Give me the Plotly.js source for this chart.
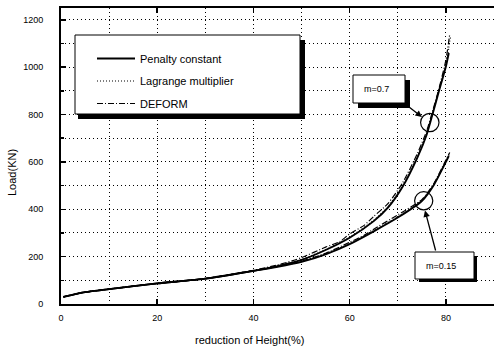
<!DOCTYPE html>
<html><head><meta charset="utf-8">
<script src="https://cdn.plot.ly/plotly-3.0.1.min.js"></script>
<style>html,body{margin:0;padding:0;background:#fff;}#chart{width:494px;height:350px;}</style>
</head><body><div id="chart"></div>
<script>
// reduction of Height (%) and Load (KN), m = 0.7
const penaltyX07 = [0.5, 5, 10, 20, 30, 40, 45, 50, 55, 60, 65, 68, 71, 74, 76, 77, 78.5, 80, 80.6];
const penaltyY07 = [30, 50, 63, 87, 107, 140, 160, 186, 228, 280, 350, 408, 495, 615, 715, 785, 895, 1003, 1060];
const lagrangeX07 = [0.5, 5, 10, 20, 30, 40, 45, 50, 55, 60, 65, 68, 71, 74, 76, 77, 78.5, 80, 80.6, 81];
const lagrangeY07 = [30, 50, 63, 87, 107, 141, 161, 188, 230, 283, 354, 412, 500, 620, 720, 790, 900, 1010, 1080, 1135];
const deformX07 = [0.5, 5, 10, 20, 30, 40, 45, 48, 50, 55, 58, 60, 63, 65, 68, 71, 74, 76, 77, 78.5, 80, 80.8];
const deformY07 = [30, 50, 63, 87, 107, 142, 165, 182, 196, 240, 264, 296, 332, 370, 425, 512, 632, 730, 798, 905, 1030, 1140];
// m = 0.15
const penaltyX015 = [0.5, 5, 10, 20, 30, 40, 45, 50, 55, 60, 65, 70, 75, 77.5, 80, 80.6];
const penaltyY015 = [30, 50, 63, 87, 107, 140, 157, 178, 210, 253, 307, 365, 435, 503, 600, 625];
const lagrangeX015 = [0.5, 5, 10, 20, 30, 40, 45, 50, 55, 60, 65, 70, 75, 77.5, 80, 80.8];
const lagrangeY015 = [30, 50, 63, 87, 107, 140, 158, 179, 212, 255, 310, 368, 438, 506, 604, 635];
const deformX015 = [0.5, 5, 10, 20, 30, 40, 45, 50, 55, 60, 63, 65, 70, 75, 77.5, 80, 80.8];
const deformY015 = [30, 50, 63, 87, 107, 141, 159, 181, 214, 261, 290, 316, 376, 441, 509, 608, 640];

const seriesNames = ["Penalty constant", "Lagrange multiplier", "DEFORM"];
const xTicks = [0, 20, 40, 60, 80];
const yTicks = [0, 200, 400, 600, 800, 1000, 1200];
const labels07 = "m=0.7";
const labels015 = "m=0.15";

const styles = [
  {color: "#000", width: 1.9, dash: "solid"},
  {color: "#000", width: 1.1, dash: "1px,2px"},
  {color: "#000", width: 1.2, dash: "6px,2px,1px,2px"}
];
const groups = [
  [penaltyX07, penaltyY07, penaltyX015, penaltyY015],
  [lagrangeX07, lagrangeY07, lagrangeX015, lagrangeY015],
  [deformX07, deformY07, deformX015, deformY015]
];
const traces = [];
groups.forEach((g, i) => {
  traces.push({x: g[0], y: g[1], mode: "lines", name: seriesNames[i], legendgroup: "g" + i,
    line: Object.assign({shape: "spline", smoothing: 0.6}, styles[i])});
  traces.push({x: g[2], y: g[3], mode: "lines", name: seriesNames[i], legendgroup: "g" + i, showlegend: false,
    line: Object.assign({shape: "spline", smoothing: 0.6}, styles[i])});
});

const fontF = "Liberation Sans, Arial, sans-serif";
// pixel helpers for decorations
const L = 61, T = 8, W = 433, H = 296, XR = 90, YR = 1250;
const dx = p => (p - L) / W * XR;
const dy = p => (T + H - p) / H * YR;
const rect = (x0, y0, x1, y1, fill, lw) => ({type: "rect", xref: "x", yref: "y", layer: "above",
  x0: dx(x0), x1: dx(x1), y0: dy(y0), y1: dy(y1), fillcolor: fill, line: {color: "#000", width: lw}});
const circ = (cx, cy, r) => ({type: "circle", xref: "x", yref: "y", layer: "above",
  x0: dx(cx - r), x1: dx(cx + r), y0: dy(cy + r), y1: dy(cy - r), line: {color: "#000", width: 1.2}});

const shapes = [
  rect(78, 40, 305, 119, "#000", 0),
  rect(75, 35, 300, 114, "#fff", 1),
  rect(358, 80, 410, 108, "#000", 0),
  rect(353, 75, 405, 103, "#fff", 1),
  rect(419, 256, 477, 282, "#000", 0),
  rect(415, 252, 474, 279, "#fff", 1),
  circ(429.8, 122.5, 9.2),
  circ(423.7, 200.8, 9.1)
];

const annotations = [
  {x: dx(362), y: dy(89), xref: "x", yref: "y", text: labels07, showarrow: false, xanchor: "left",
   font: {family: fontF, size: 9, color: "#000"}},
  {x: dx(424), y: dy(266), xref: "x", yref: "y", text: labels015, showarrow: false, xanchor: "left",
   font: {family: fontF, size: 9, color: "#000"}},
  {x: dx(422), y: dy(117), ax: dx(404), ay: dy(103), xref: "x", yref: "y", axref: "x", ayref: "y",
   text: "", showarrow: true, arrowhead: 2, arrowsize: 1, arrowwidth: 1.3, arrowcolor: "#000"},
  {x: dx(425), y: dy(210.5), ax: dx(436), ay: dy(252), xref: "x", yref: "y", axref: "x", ayref: "y",
   text: "", showarrow: true, arrowhead: 2, arrowsize: 1, arrowwidth: 1.3, arrowcolor: "#000"},
  {x: (12 - L) / W, y: (T + H - 173) / H, xref: "paper", yref: "paper", text: "Load(KN)", showarrow: false, textangle: -90,
   xanchor: "center", yanchor: "middle", font: {family: fontF, size: 11, color: "#000"}},
  {x: (249 - L) / W, y: (T + H - 340) / H, xref: "paper", yref: "paper", text: "reduction of Height(%)", showarrow: false,
   xanchor: "center", yanchor: "middle", font: {family: fontF, size: 11, color: "#000"}}
];

const gridDash = "1px,3px";
const layout = {
  width: 494, height: 350,
  margin: {l: L, r: 494 - L - W, t: T, b: 350 - T - H},
  paper_bgcolor: "#fff", plot_bgcolor: "#fff",
  font: {family: fontF, size: 9, color: "#000"},
  showlegend: true,
  legend: {x: (92 - L) / W, y: (T + H - 44) / H, xanchor: "left", yanchor: "top",
    bgcolor: "rgba(0,0,0,0)", borderwidth: 0, itemwidth: 38, tracegroupgap: 3.5,
    traceorder: "grouped", font: {family: fontF, size: 11, color: "#000"}},
  xaxis: {range: [0, XR], tickvals: xTicks, ticktext: xTicks.map(String), ticks: "inside", ticklen: 5,
    tickwidth: 1.5, tickcolor: "#000", showline: true, linewidth: 2, linecolor: "#000", mirror: "ticks",
    showgrid: true, gridcolor: "#000", gridwidth: 1, griddash: gridDash, zeroline: false,
    minor: {dtick: 10, showgrid: true, gridcolor: "#000", gridwidth: 1, griddash: gridDash, ticks: ""},
    ticklabelstandoff: 4, tickfont: {family: fontF, size: 9, color: "#000"}},
  yaxis: {range: [0, YR], tickvals: yTicks, ticktext: yTicks.map(String), ticks: "inside", ticklen: 5,
    tickwidth: 1.5, tickcolor: "#000", showline: true, linewidth: 2, linecolor: "#000", mirror: false,
    showgrid: true, gridcolor: "#000", gridwidth: 1, griddash: gridDash, zeroline: false,
    minor: {dtick: 100, showgrid: true, gridcolor: "#000", gridwidth: 1, griddash: gridDash, ticks: "inside", ticklen: 3},
    ticklabelstandoff: 14, tickfont: {family: fontF, size: 9, color: "#000"}},
  shapes: shapes,
  annotations: annotations
};
Plotly.newPlot("chart", traces, layout, {staticPlot: true, displayModeBar: false});
</script></body></html>
